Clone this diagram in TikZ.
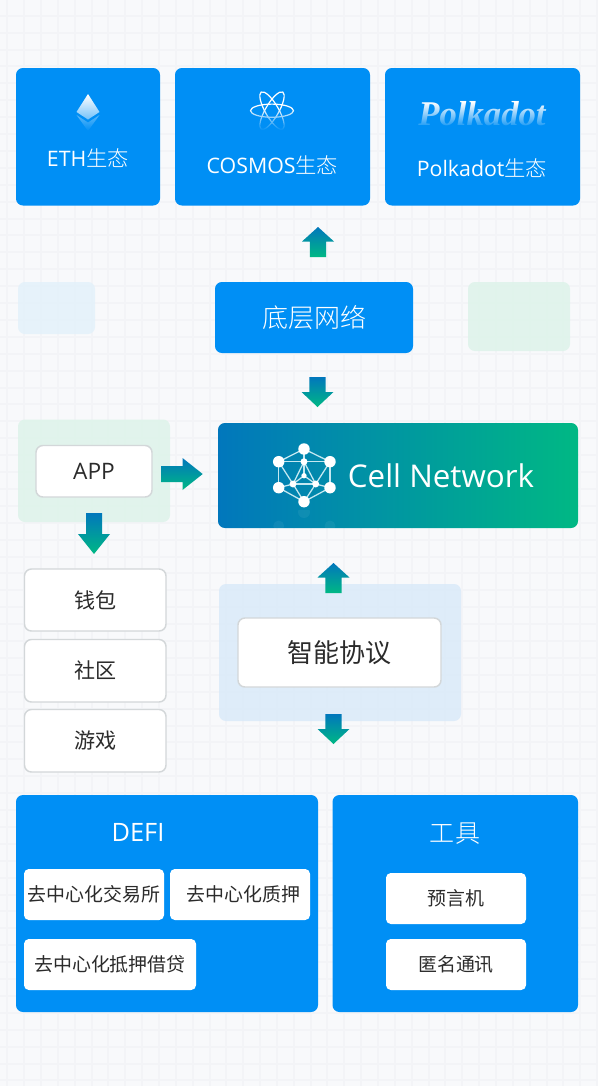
\documentclass[tikz,border=0pt]{standalone}
\usepackage{fontspec}
\setmainfont{Open Sans}
\newfontfamily\cjk{Noto Sans CJK SC Light}
\newfontfamily\cjkr{Noto Sans CJK SC}
\newfontfamily\logofont{Liberation Serif}
\usetikzlibrary{fadings}
\definecolor{pagebg}{HTML}{F8F9FB}
\definecolor{gridc}{HTML}{F3F4F7}
\definecolor{boxblue}{HTML}{008FF5}
\definecolor{gradblue}{HTML}{0177BC}
\definecolor{gradgreen}{HTML}{00B884}
\definecolor{paleblue}{HTML}{E3F1FA}
\definecolor{palegreen}{HTML}{DDF3EA}
\definecolor{palesky}{HTML}{DAEAF9}
\definecolor{edgegrey}{HTML}{D3D7D9}
\definecolor{inkc}{HTML}{2B2B2B}
\definecolor{logoedge}{HTML}{C4E8F1}
\tikzset{
  px/.style={x=0.75pt,y=-0.75pt},
  card/.style={rectangle,rounded corners=5.2pt,inner sep=0pt,outer sep=0pt},
  panel/.style={card,fill opacity=0.85},
  bluecard/.style={card,fill=boxblue,text=white},
  whitecard/.style={card,fill=white,draw=edgegrey,line width=1.1pt,text=inkc},
  plaincard/.style={card,fill=white,rounded corners=3.6pt,text=inkc},
  gradarrow/.style={top color=gradblue,bottom color=gradgreen,draw=none},
  bignode/.style={circle,fill=white,minimum size=8.6pt,inner sep=0pt},
  midnode/.style={circle,fill=white,minimum size=5.2pt,inner sep=0pt},
  smallnode/.style={circle,fill=white,minimum size=4pt,inner sep=0pt},
  logoline/.style={draw=logoedge,line width=0.95pt}
}
% name, style, x1, y1, x2, y2, text
\newcommand{\Bx}[7]{\node[#2,minimum width={(#5-#3)*0.75pt},minimum height={(#6-#4)*0.75pt},align=center] (#1) at ({(#3+#5)/2},{(#4+#6)/2}) {#7};}
\newcommand{\ArrDown}[2]{\shade[gradarrow] ({#1-8.2},#2) -- ({#1+8.2},#2) -- ({#1+8.2},{#2+15}) -- ({#1+16},{#2+15}) -- (#1,{#2+30}) -- ({#1-16},{#2+15}) -- ({#1-8.2},{#2+15}) -- cycle;}
\newcommand{\ArrUp}[2]{\shade[gradarrow] (#1,#2) -- ({#1+16},{#2+14.5}) -- ({#1+8.2},{#2+14.5}) -- ({#1+8.2},{#2+30}) -- ({#1-8.2},{#2+30}) -- ({#1-8.2},{#2+14.5}) -- ({#1-16},{#2+14.5}) -- cycle;}
\begin{document}
\begin{tikzpicture}[px]
\useasboundingbox (0,0) rectangle (597,1086);
\fill[pagebg] (0,0) rectangle (597,1086);
\foreach \k in {0,...,35} \draw[gridc,line width=1.5pt] ({7.3+16.85*\k},0) -- ({7.3+16.85*\k},1086);
\foreach \k in {0,...,64} \draw[gridc,line width=1.5pt] (0,{-1.2+16.9*\k}) -- (597,{-1.2+16.9*\k});

% pale panels
\Bx{paleL}{panel,fill=paleblue}{18}{282}{95}{334}{}
\Bx{paleR}{panel,fill=palegreen}{468}{282}{570}{351}{}
\Bx{appPanel}{panel,fill=palegreen}{18}{419.5}{170}{522}{}
\Bx{smartPanel}{panel,fill=palesky}{219}{584}{461}{721}{}

% top ecosystem cards
\Bx{eth}{bluecard}{16}{68}{160}{205.5}{}
\Bx{cosmos}{bluecard}{175}{68}{370}{205.5}{}
\Bx{polka}{bluecard}{385}{68}{580}{205.5}{}
\node[text=white] (ethT) at (88,158) {\fontsize{16}{20}\selectfont ETH{\cjk 生态}};
\node[text=white] (cosT) at (272.5,165) {\fontsize{16}{20}\selectfont COSMOS{\cjk 生态}};
\node[text=white] (polT) at (482,168) {\fontsize{16}{20}\selectfont Polkadot{\cjk 生态}};

% ETH icon
\shade[top color=white,bottom color=white!45!boxblue] (88,94) -- (99.5,112) -- (88,119.5) -- (76.5,112) -- cycle;
\shade[top color=white!35!boxblue,bottom color=boxblue] (76.5,115) -- (88,122.5) -- (99.5,115) -- (88,131) -- cycle;
% atom icon
\foreach \r in {0,60,-60} \draw[white,line width=0.9pt,rotate around={\r:(272,110.7)}] (272,110.7) ellipse (21.5 and 6.6);
\fill[boxblue,path fading=north] (248,108) rectangle (296,130);
\fill[boxblue] (248,130) rectangle (296,134);
% Polkadot logo
\node[text=white] (polLogo) at (482,114) {\fontsize{26}{30}\logofont\bfseries\itshape Polkadot};
\fill[boxblue,path fading=north] (415,102) rectangle (552,129);
\fill[boxblue] (415,129) rectangle (552,136);

% base network
\Bx{base}{bluecard}{215}{282}{413}{353}{\raisebox{-1pt}{\fontsize{19.5}{24}\cjk 底层网络}}

% Cell Network
\shade[left color=gradblue,right color=gradgreen,rounded corners=5.2pt] (218,423) rectangle (578,528);
\node[text=white] (cellT) at (441,476) {\fontsize{23.5}{30}\selectfont Cell Network};
\begin{scope}
\clip (270,510) rectangle (340,528);
\foreach \px/\py/\rr in {304/512/6,278.7/526/5.5,330/526/5.5} \fill[white,opacity=0.06] (\px,\py) circle (\rr);
\end{scope}
\coordinate (lgT) at (304,449);
\coordinate (lgUL) at (278.7,461.7);
\coordinate (lgUR) at (330,461.7);
\coordinate (lgLL) at (278.7,487.7);
\coordinate (lgLR) at (330,487.7);
\coordinate (lgB) at (304,501.7);
\coordinate (lgIT) at (304,461.7);
\coordinate (lgIM) at (304,475.7);
\coordinate (lgIL) at (293,484);
\coordinate (lgIR) at (315.7,484);
\foreach \a/\b in {lgT/lgUL,lgT/lgUR,lgT/lgIT,lgUL/lgIT,lgUR/lgIT,lgUL/lgLL,lgUR/lgLR,lgLL/lgB,lgLR/lgB,lgLL/lgIL,lgLR/lgIR,lgIL/lgB,lgIR/lgB,lgIL/lgIR,lgIT/lgIL,lgIT/lgIR,lgIM/lgIL,lgIM/lgIR,lgUL/lgIL,lgUR/lgIR,lgIT/lgIM}
  \draw[logoline] (\a) -- (\b);
\foreach \c in {lgT,lgUL,lgUR,lgLL,lgLR,lgB} \node[bignode] at (\c) {};
\foreach \c in {lgIT,lgIL,lgIR} \node[midnode] at (\c) {};
\node[smallnode] at (lgIM) {};

% arrows
\ArrUp{318}{227}
\ArrDown{317.5}{377}
\ArrUp{333.5}{563}
\ArrDown{333.5}{714}
\shade[gradarrow] (86,513) -- (102,513) -- (102,534) -- (110,534) -- (94,554) -- (78,534) -- (86,534) -- cycle;
\shade[gradarrow] (161,466) -- (182.5,466) -- (182.5,458) -- (202.7,474) -- (182.5,490) -- (182.5,482) -- (161,482) -- cycle;

% APP column
\Bx{app}{whitecard}{36}{445.5}{152}{497}{\fontsize{17}{20}\selectfont APP}
\Bx{wallet}{whitecard}{24.5}{569}{166}{631}{\fontsize{15.8}{20}\cjkr 钱包}
\Bx{community}{whitecard}{24.5}{639.5}{166}{702}{\fontsize{15.8}{20}\cjkr 社区}
\Bx{games}{whitecard}{24.5}{709.5}{166}{772}{\fontsize{15.8}{20}\cjkr 游戏}

% smart protocol
\Bx{smart}{whitecard}{238}{618}{441}{687}{\raisebox{-1pt}{\fontsize{19.5}{24}\cjkr 智能协议}}

% bottom panels
\Bx{defi}{bluecard}{16}{795}{318}{1012}{}
\Bx{tools}{bluecard}{332.5}{795}{578}{1012}{}
\node[text=white] (defiT) at (138,832) {\fontsize{19}{24}\selectfont DEFI};
\node[text=white] (toolsT) at (455,833.5) {\fontsize{18.8}{24}\cjk 工具};
\Bx{dex}{plaincard}{24}{869}{164}{920}{\fontsize{14.2}{18}\cjkr 去中心化交易所}
\Bx{stake}{plaincard}{170}{869}{310}{920}{\hspace*{5pt}\fontsize{14.2}{18}\cjkr 去中心化质押}
\Bx{lend}{plaincard}{24}{939}{196}{990}{\fontsize{14.2}{18}\cjkr 去中心化抵押借贷}
\Bx{oracle}{plaincard}{386}{873}{526}{924}{\fontsize{14.2}{18}\cjkr 预言机}
\Bx{anon}{plaincard}{386}{939}{526}{990}{\fontsize{14.2}{18}\cjkr 匿名通讯}
\end{tikzpicture}
\end{document}
